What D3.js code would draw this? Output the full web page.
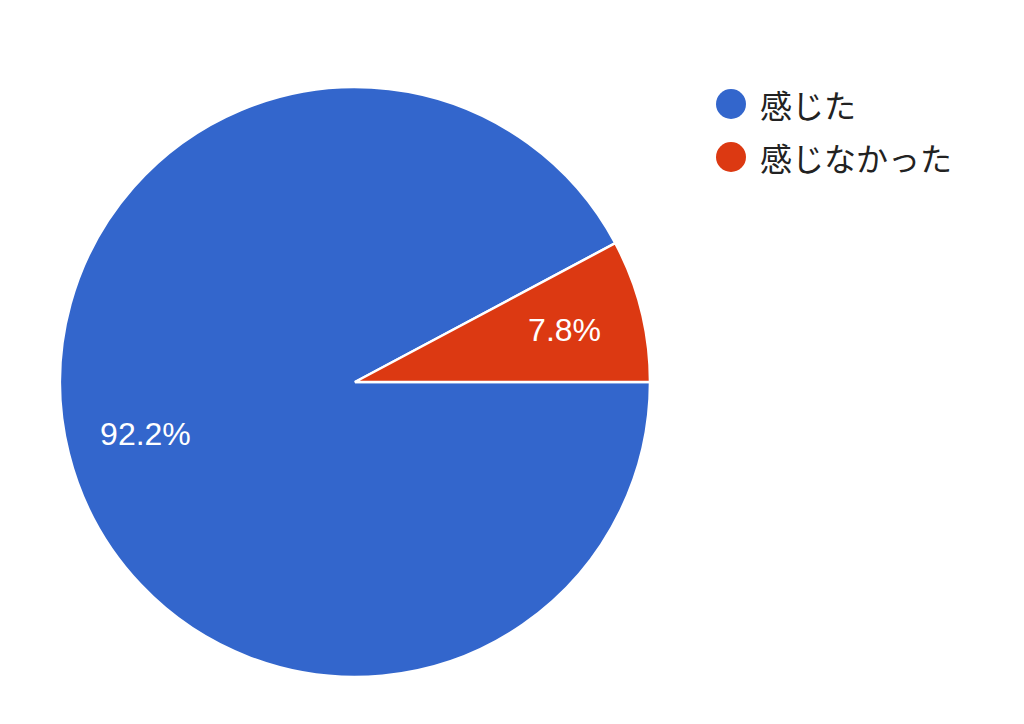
<!DOCTYPE html>
<html>
<head>
<meta charset="utf-8">
<script src="https://cdn.jsdelivr.net/npm/d3@7"></script>
<style>
  body { margin: 0; background: #fff; }
</style>
</head>
<body>
<div id="chart"></div>
<script>
// Pie data
const labels = ["感じた", "感じなかった"];
const values = [92.2, 7.8];
const colors = ["#3366cc", "#dc3912"];

const width = 1024, height = 724;
const cx = 355, cy = 382, radius = 295;

const svg = d3.select("#chart")
  .append("svg")
  .attr("width", width)
  .attr("height", height);

const data = labels.map((l, i) => ({ label: l, value: values[i], color: colors[i] }));

// start at 3 o'clock, clockwise
const pie = d3.pie()
  .sort(null)
  .value(d => d.value)
  .startAngle(Math.PI / 2)
  .endAngle(Math.PI / 2 + 2 * Math.PI);

const arc = d3.arc().innerRadius(0).outerRadius(radius);
const labelArc = d3.arc().innerRadius(216).outerRadius(216);

const g = svg.append("g").attr("transform", `translate(${cx},${cy})`);

const arcs = pie(data);

g.selectAll("path")
  .data(arcs)
  .enter().append("path")
  .attr("d", arc)
  .attr("fill", d => d.data.color)
  .attr("stroke", "#fff")
  .attr("stroke-width", 2.5);

g.selectAll("text.pct")
  .data(arcs)
  .enter().append("text")
  .attr("class", "pct")
  .attr("transform", d => `translate(${labelArc.centroid(d)})`)
  .attr("text-anchor", "middle")
  .attr("dominant-baseline", "central")
  .attr("fill", "#fff")
  .style("font-family", "'Liberation Sans', Arial, sans-serif")
  .style("font-size", "32px")
  .text(d => d.data.value.toFixed(1) + "%");

// Legend
const legend = svg.append("g").attr("transform", "translate(731,104)");
const item = legend.selectAll("g")
  .data(data)
  .enter().append("g")
  .attr("transform", (d, i) => `translate(0,${i * 53})`);

item.append("circle")
  .attr("r", 15)
  .attr("fill", d => d.color);

item.append("text")
  .attr("x", 29)
  .attr("dominant-baseline", "central")
  .attr("fill", "#222")
  .style("font-family", "'Noto Sans CJK JP', sans-serif")
  .style("font-size", "32px")
  .text(d => d.label);
</script>
</body>
</html>
